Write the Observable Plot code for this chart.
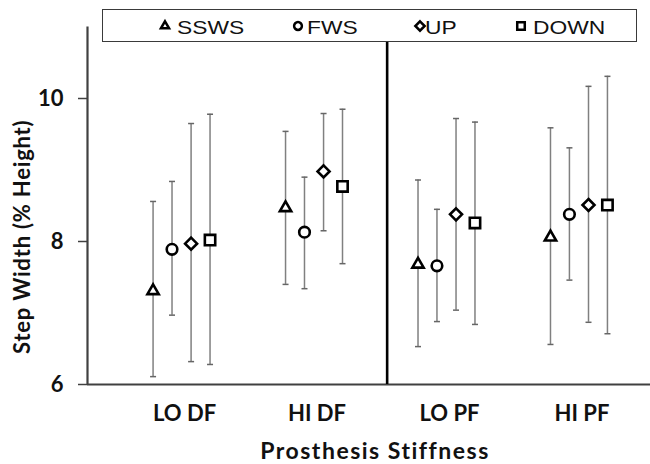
<!DOCTYPE html>
<html><head><meta charset="utf-8">
<script src="https://cdn.jsdelivr.net/npm/d3@7"></script>
<script src="https://cdn.jsdelivr.net/npm/@observablehq/plot@0.6"></script>
<style>
body{margin:0;background:#fff;}
#wrap{position:relative;width:650px;height:464px;overflow:hidden;}
#legend{position:absolute;left:102px;top:9px;width:535px;height:33px;box-sizing:border-box;border:1.5px solid #3a3a3a;background:#fff;}
.sym{position:absolute;top:1px;}
.lab{position:absolute;top:3px;height:30px;line-height:30px;font-family:"Liberation Sans",Arial,sans-serif;font-size:19px;color:#111;transform:scaleX(1.2);transform-origin:left center;white-space:nowrap;}
</style>
</head><body><div id="wrap"><div id="chart"></div><div id="legend"></div></div>
<script>
// Categories and series
const groups = ["LO DF", "HI DF", "LO PF", "HI PF"];
const series = ["SSWS", "FWS", "UP", "DOWN"];
// Means (% height) per series across groups
const meanSSWS = [7.31, 8.47, 7.68, 8.06];
const meanFWS  = [7.89, 8.13, 7.66, 8.38];
const meanUP   = [7.97, 8.98, 8.38, 8.51];
const meanDOWN = [8.02, 8.77, 8.26, 8.51];
// Error bar upper ends
const hiSSWS = [8.56, 9.54, 8.86, 9.59];
const hiFWS  = [8.84, 8.90, 8.45, 9.31];
const hiUP   = [9.65, 9.79, 9.72, 10.17];
const hiDOWN = [9.78, 9.85, 9.67, 10.31];
// Error bar lower ends
const loSSWS = [6.11, 7.40, 6.53, 6.56];
const loFWS  = [6.97, 7.34, 6.88, 7.46];
const loUP   = [6.32, 8.15, 7.04, 6.87];
const loDOWN = [6.28, 7.69, 6.84, 6.71];
// Axis ticks and titles
const yTicks = [6, 8, 10];
const yTitle = "Step Width (% Height)";
const xTitle = "Prosthesis Stiffness";

const means = {SSWS: meanSSWS, FWS: meanFWS, UP: meanUP, DOWN: meanDOWN};
const highs = {SSWS: hiSSWS, FWS: hiFWS, UP: hiUP, DOWN: hiDOWN};
const lows  = {SSWS: loSSWS, FWS: loFWS, UP: loUP, DOWN: loDOWN};

const offsets = {SSWS: -0.215, FWS: -0.072, UP: 0.072, DOWN: 0.215};
const symbolOf = {SSWS: "triangle2", FWS: "circle", UP: "diamond2", DOWN: "square2"};
const rOf = {SSWS: 5.4, FWS: 5.3, UP: 5.4, DOWN: 6.6};
const legendR = {SSWS: 3.9, FWS: 3.9, UP: 4.2, DOWN: 4.8};

const rows = [];
series.forEach(s => groups.forEach((g, gi) => rows.push({
  series: s, group: g, x: gi + offsets[s], mean: means[s][gi], hi: highs[s][gi], lo: lows[s][gi]
})));

const cap = {draw(ctx) { ctx.moveTo(-3, 0); ctx.lineTo(3, 0); }};
const xDomain = [-0.71, 3.54];
const divider = 1.552;

const marks = [
  Plot.ruleY([6], {stroke: "#404040", strokeWidth: 2.2}),
  Plot.ruleX([xDomain[0]], {stroke: "#404040", strokeWidth: 2.2}),
  Plot.ruleX([divider], {stroke: "#000", strokeWidth: 2.6}),
  Plot.ruleX(rows, {x: "x", y1: "lo", y2: "hi", stroke: "#808080", strokeWidth: 1.5}),
  Plot.dot(rows, {x: "x", y: "hi", symbol: cap, stroke: "#666", strokeWidth: 1.5, fill: "none"}),
  Plot.dot(rows, {x: "x", y: "lo", symbol: cap, stroke: "#666", strokeWidth: 1.5, fill: "none"}),
  ...series.map(s => Plot.dot(rows.filter(d => d.series === s), {
    x: "x", y: "mean", symbol: symbolOf[s], r: rOf[s], fill: "white", stroke: "black", strokeWidth: 2.6
  })),
  Plot.axisY({ticks: yTicks, tickFormat: d => String(d), tickSize: 9, tickPadding: 15, label: null, fontSize: 22, fontWeight: "bold", stroke: "#404040", strokeWidth: 1.5}),
  Plot.axisX({ticks: [0, 1, 2, 3], tickFormat: i => groups[i], tickSize: 0, tickPadding: 21, dx: 3, label: null, fontSize: 22, fontWeight: "bold"}),
  Plot.text([xTitle], {frameAnchor: "bottom", textAnchor: "middle", lineAnchor: "middle", dx: 6, dy: 67, fontSize: 23, fontWeight: "bold", fill: "#111"}),
  Plot.text([yTitle], {frameAnchor: "left", textAnchor: "middle", lineAnchor: "middle", rotate: -90, dx: -65, dy: 31, fontSize: 22, fontWeight: "bold", fill: "#111"})
];

const chart = Plot.plot({
  width: 650, height: 464,
  marginLeft: 87, marginRight: 0, marginTop: 26.5, marginBottom: 80,
  x: {domain: xDomain},
  y: {domain: [6, 11]},
  style: {fontFamily: "Lato, sans-serif", color: "#111", background: "white", overflow: "visible"},
  marks
});
d3.select(chart).selectAll("text")
  .filter(function() { return this.textContent === xTitle; })
  .style("letter-spacing", "1.5px");
d3.select(chart).selectAll("text")
  .filter(function() { return this.textContent === yTitle; })
  .style("letter-spacing", "0.8px");
document.getElementById("chart").appendChild(chart);

// Legend
const legend = document.getElementById("legend");
const legendPos = {SSWS: [165, 177], FWS: [298, 307], UP: [420, 425], DOWN: [521, 533]};
const d3sym = {triangle2: d3.symbolTriangle2, circle: d3.symbolCircle, diamond2: d3.symbolDiamond2, square2: d3.symbolSquare2};
series.forEach(s => {
  const [cx, tx] = legendPos[s];
  const r = legendR[s];
  const path = d3.symbol(d3sym[symbolOf[s]], Math.PI * r * r)();
  const svg = document.createElementNS("http://www.w3.org/2000/svg", "svg");
  svg.setAttribute("width", 20); svg.setAttribute("height", 30);
  svg.setAttribute("class", "sym");
  svg.style.left = (cx - 102 - 1.5 - 10) + "px";
  svg.innerHTML = `<path d="${path}" transform="translate(10,15)" fill="white" stroke="black" stroke-width="2.5"/>`;
  legend.appendChild(svg);
  const lab = document.createElement("div");
  lab.className = "lab";
  lab.style.left = (tx - 102 - 1.5) + "px";
  lab.textContent = s;
  legend.appendChild(lab);
});
</script>
</body></html>
